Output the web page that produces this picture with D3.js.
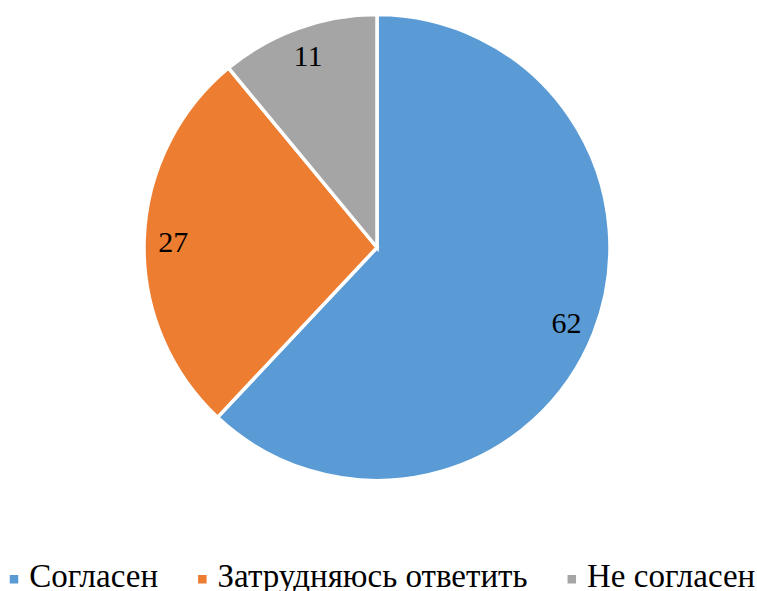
<!DOCTYPE html>
<html>
<head>
<meta charset="utf-8">
<script src="https://cdn.jsdelivr.net/npm/d3@7"></script>
<style>
  html, body { margin: 0; padding: 0; background: #fff; }
  svg { display: block; }
</style>
</head>
<body>
<svg id="chart" width="757" height="591"></svg>
<script>
// Survey answers
const categories = ["Согласен", "Затрудняюсь ответить", "Не согласен"];
const values = [62, 27, 11];
const colors = ["#5B9BD5", "#ED7D31", "#A5A5A5"];

const width = 757, height = 591;
const cx = 377, cy = 247.5, radius = 233;
const fontFamily = "'Liberation Serif', 'Times New Roman', 'DejaVu Serif', serif";

const svg = d3.select("#chart");

const pie = d3.pie().sort(null).value(d => d.value);
const data = categories.map((c, i) => ({ name: c, value: values[i], color: colors[i] }));
const arcs = pie(data);

const arc = d3.arc().innerRadius(0).outerRadius(radius);
const labelArc = d3.arc().innerRadius(radius * 0.875).outerRadius(radius * 0.875);

const g = svg.append("g").attr("transform", `translate(${cx},${cy})`);

g.selectAll("path.slice")
  .data(arcs)
  .join("path")
  .attr("class", "slice")
  .attr("d", arc)
  .attr("fill", d => d.data.color)
  .attr("stroke", "#fff")
  .attr("stroke-width", 3.5)
  .attr("stroke-linejoin", "miter");

g.selectAll("text.label")
  .data(arcs)
  .join("text")
  .attr("class", "label")
  .attr("transform", d => `translate(${labelArc.centroid(d)})`)
  .attr("text-anchor", "middle")
  .attr("dy", "0.35em")
  .attr("font-family", fontFamily)
  .attr("font-size", 30)
  .attr("fill", "#000")
  .text(d => d.data.value);

// Legend, laid out horizontally and centred under the pie
const legend = svg.append("g").attr("class", "legend");
const fontSize = 33, box = 8.5, boxGap = 11, itemGap = 40, baseY = 587;
const items = legend.selectAll("g.item").data(data).join("g").attr("class", "item");
items.append("rect")
  .attr("width", box).attr("height", box)
  .attr("fill", d => d.color);
items.append("text")
  .attr("font-family", fontFamily)
  .attr("font-size", fontSize)
  .attr("fill", "#000")
  .text(d => d.name);

const widths = [];
items.each(function() {
  widths.push(d3.select(this).select("text").node().getComputedTextLength());
});
const itemWidths = widths.map(w => box + boxGap + w);
const total = d3.sum(itemWidths) + itemGap * (itemWidths.length - 1);
let x = (width - total) / 2 + 4;
items.each(function(d, i) {
  const it = d3.select(this);
  it.select("rect").attr("x", x).attr("y", baseY - 12);
  it.select("text").attr("x", x + box + boxGap).attr("y", baseY);
  x += itemWidths[i] + itemGap;
});
</script>
</body>
</html>
